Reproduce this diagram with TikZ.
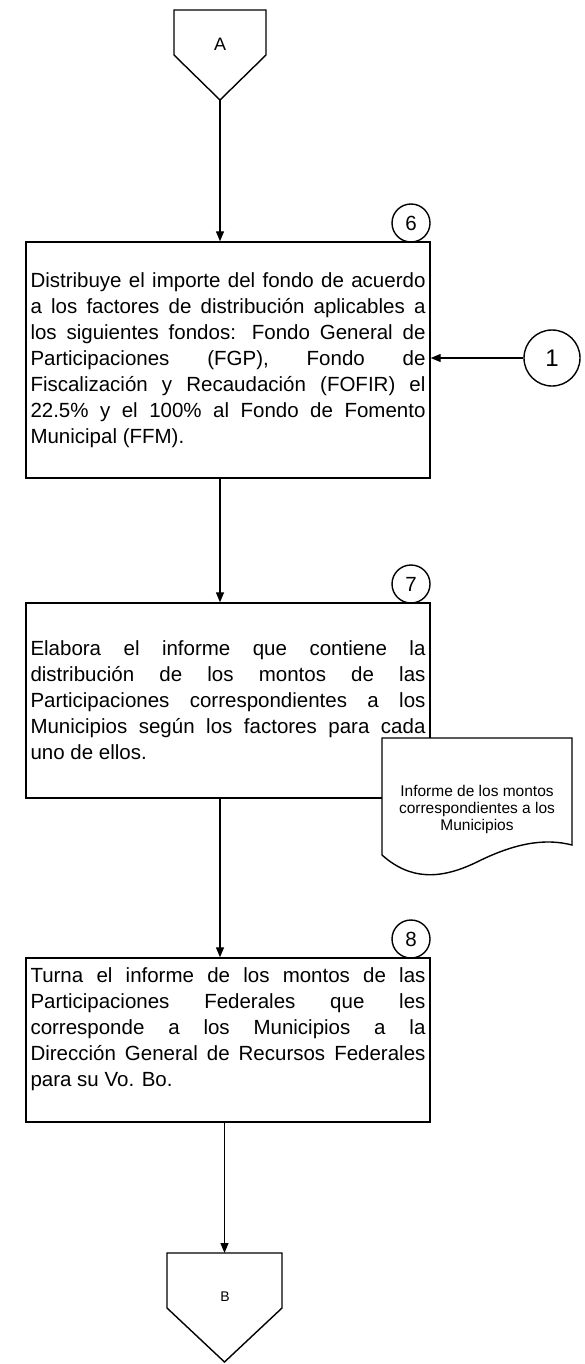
\documentclass[tikz,border=0pt]{standalone}
\usepackage{fontspec}
\setmainfont{Liberation Sans}
\usetikzlibrary{arrows.meta,positioning}
\newcommand\letracaja{\fontsize{20.5pt}{26pt}\selectfont\hyphenpenalty 10000 \tolerance 10000 }

\begin{document}
\begin{tikzpicture}[x=1pt,y=-1pt,
    caja/.style={draw, line width=1.4pt, text width=395pt, inner xsep=4.5pt, inner ysep=0pt,
      align=justify, font=\letracaja},
    paso/.style={draw, circle, line width=1.4pt, minimum size=38pt, inner sep=0pt,
      font=\fontsize{20.5pt}{24pt}\selectfont},
    flecha/.style={-{Triangle[length=10pt,width=8pt]}, line width=1.3pt},
    conector/.style={line width=1.4pt}]
  \useasboundingbox (0,0) rectangle (585,1364);
  % conector A
  \draw[conector] (174,10) -- (266,10) -- (266,55) -- (220,100) -- (174,55) -- cycle;
  \node[font=\fontsize{18pt}{20pt}\selectfont] (a) at (220,44) {A};
  \coordinate (a-punta) at (220,100);
  % paso 6
  \node[caja, minimum height=236pt] (p6) at (228,360) {Distribuye el importe del fondo de acuerdo\linebreak
    a los factores de distribución aplicables a\linebreak
    los siguientes fondos: Fondo General de\linebreak
    Participaciones (FGP), Fondo de\linebreak
    Fiscalización y Recaudación (FOFIR) el\linebreak
    22.5\% y el 100\% al Fondo de Fomento\linebreak
    Municipal (FFM).};
  \node[paso] (c6) at (411,223) {6};
  \draw[flecha] (a-punta) -- (a-punta |- p6.north);
  % conector 1
  \node[paso, minimum size=56pt, font=\fontsize{24pt}{26pt}\selectfont] (c1) at (552,358) {1};
  \draw[flecha] (c1.west) -- (c1.west -| p6.east);
  % paso 7
  \node[caja, minimum height=195pt] (p7) at (228,700.5) {Elabora el informe que contiene la\linebreak
    distribución de los montos de las\linebreak
    Participaciones correspondientes a los\linebreak
    Municipios según los factores para cada\linebreak
    uno de ellos.};
  \node[paso] (c7) at (411,584) {7};
  \draw[flecha] (p6.south -| a-punta) -- (p7.north -| a-punta);
  % documento
  \draw[conector, fill=white] (382,738) -- (572,738) -- (572,845)
    .. controls (545,838) and (515,843) .. (477,862)
    .. controls (440,880) and (410,880) .. (382,855) -- cycle;
  \node[align=center, font=\fontsize{15.5pt}{17pt}\selectfont] (doc) at (477,809)
    {Informe de los montos\\correspondientes a los\\Municipios};
  % paso 8
  \node[caja, minimum height=164pt] (p8) at (228,1040) {Turna el informe de los montos de las\linebreak
    Participaciones Federales que les\linebreak
    corresponde a los Municipios a la\linebreak
    Dirección General de Recursos Federales\linebreak
    para su Vo. Bo.\par\mbox{}};
  \node[paso] (c8) at (411,939) {8};
  \draw[flecha] (p7.south -| a-punta) -- (p8.north -| a-punta);
  % conector B
  \draw[conector] (167,1253) -- (282,1253) -- (282,1308) -- (224.5,1362) -- (167,1308) -- cycle;
  \node[font=\fontsize{14pt}{16pt}\selectfont] (b) at (225,1297) {B};
  \coordinate (b-tope) at (224.5,1253);
  \draw[flecha] (b-tope |- p8.south) -- (b-tope);
\end{tikzpicture}
\end{document}
